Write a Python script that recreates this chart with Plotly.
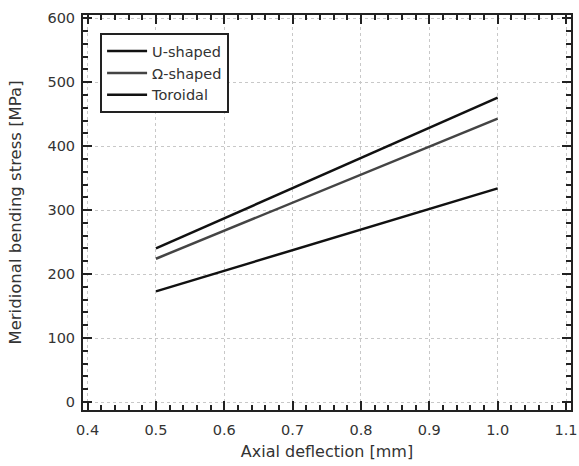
import plotly.graph_objects as go

deflection = [0.5, 1.0]
u_shaped = [240, 476]
omega_shaped = [224, 443]
toroidal = [173, 334]

font = "DejaVu Sans, sans-serif"
txt = "#333333"
fig = go.Figure()
fig.add_trace(go.Scatter(x=deflection, y=u_shaped, mode="lines", name="U-shaped",
                         line=dict(color="#111111", width=2.5)))
fig.add_trace(go.Scatter(x=deflection, y=omega_shaped, mode="lines", name="Ω-shaped",
                         line=dict(color="#444444", width=2.5)))
fig.add_trace(go.Scatter(x=deflection, y=toroidal, mode="lines", name="Toroidal",
                         line=dict(color="#111111", width=2.5)))

axis_common = dict(showline=True, linecolor="#222222", linewidth=2, mirror="allticks",
                   ticks="inside", ticklen=9, tickwidth=2, tickcolor="#222222",
                   showgrid=True, gridcolor="#c8c8c8", griddash="dot", gridwidth=1,
                   zeroline=False, automargin=False, tickfont=dict(size=14.5, color=txt))
fig.update_xaxes(range=[0.3933, 1.1073], tick0=0.4, dtick=0.1, tickformat=".1f", ticklabelstandoff=6,
                 minor=dict(tick0=0.4, dtick=0.02, ticks="inside", ticklen=5, tickwidth=2, tickcolor="#222222", showgrid=False),
                 title=dict(text="Axial deflection [mm]", font=dict(size=16, color=txt), standoff=8),
                 **axis_common)
fig.update_yaxes(range=[-12.5, 605], tick0=0, dtick=100, ticklabelstandoff=3,
                 minor=dict(tick0=0, dtick=20, ticks="inside", ticklen=5, tickwidth=2, tickcolor="#222222", showgrid=False),
                 title=dict(text="Meridional bending stress [MPa]", font=dict(size=16.5, color=txt), standoff=22),
                 **axis_common)
fig.update_layout(width=579, height=466, margin=dict(l=83, r=8, t=15, b=56),
                  plot_bgcolor="white", paper_bgcolor="white",
                  font=dict(family=font, size=14, color=txt),
                  legend=dict(x=0.035, y=0.954, xanchor="left", yanchor="top",
                              bordercolor="#222222", borderwidth=2, bgcolor="white",
                              font=dict(size=14.5, color=txt), tracegroupgap=0, itemwidth=40))
fig.write_html("out.html", config={"displayModeBar": False},
               post_script="document.body.style.margin='0';document.body.style.overflow='hidden';")
